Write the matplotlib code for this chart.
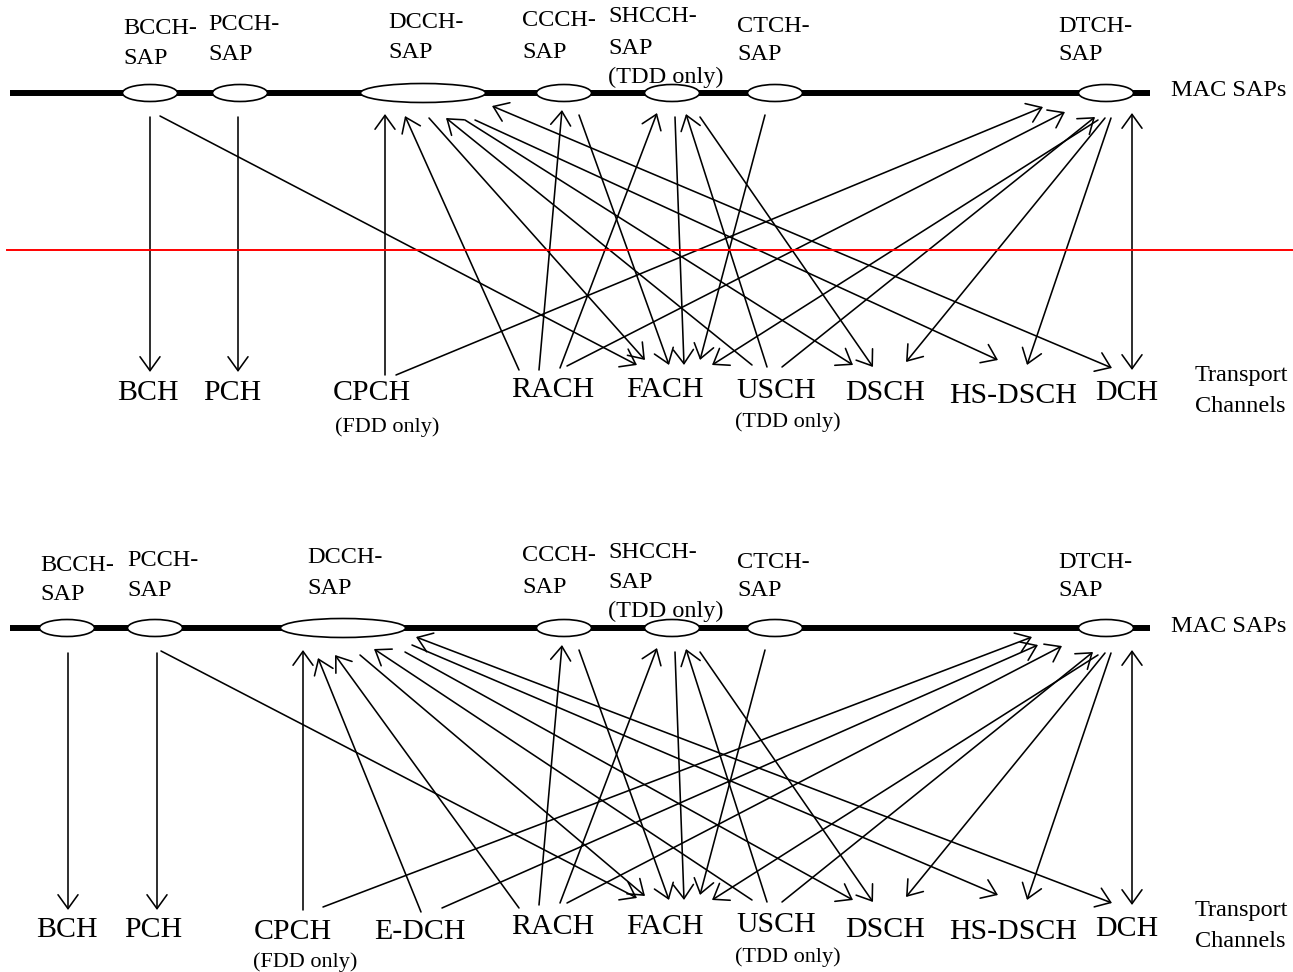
import matplotlib
matplotlib.use("Agg")
import matplotlib.pyplot as plt
from matplotlib.patches import Ellipse

W, H = 1293, 972
SERIF = "Liberation Serif"

# ---------------- upper diagram (no E-DCH) ----------------
top_mac_y = 93
top_saps = ["BCCH", "PCCH", "DCCH", "CCCH", "SHCCH", "CTCH", "DTCH"]
top_sap_x = [150, 240, 423, 564, 672, 775, 1106]
top_sap_w = [55, 55, 125, 55, 55, 55, 55]
top_label_x = [123, 208, 388, 522, 608, 737, 1058]
top_label_y = [[29, 58], [25, 55], [23, 53], [21, 52], [17, 48], [27, 55], [27, 55]]

top_channels = ["BCH", "PCH", "CPCH", "RACH", "FACH", "USCH", "DSCH", "HS-DSCH", "DCH"]
top_ch_x = [148, 232, 372, 553, 665, 776, 885, 1013, 1127]
top_ch_y = [393, 393, 393, 390, 390, 391, 393, 396, 393]

# (x at SAP, y at SAP, x at channel, y at channel, arrow)
# arrow: "down" = head at channel, "up" = head at SAP, "both"
top_edges = [
    (150, 117, 150, 372, "down"),    # BCCH - BCH
    (160, 116, 637, 365, "down"),    # BCCH - FACH
    (238, 117, 238, 372, "down"),    # PCCH - PCH
    (385, 114, 385, 375, "up"),      # DCCH - CPCH
    (1043, 107, 396, 375, "up"),     # DTCH - CPCH
    (405, 116, 519, 370, "up"),      # DCCH - RACH
    (562, 110, 539, 370, "up"),      # CCCH - RACH
    (657, 113, 560, 368, "up"),      # SHCCH - RACH
    (1065, 112, 567, 366, "up"),     # DTCH - RACH
    (429, 118, 645, 360, "down"),    # DCCH - FACH
    (579, 115, 669, 365, "down"),    # CCCH - FACH
    (675, 117, 684, 365, "down"),    # SHCCH - FACH
    (765, 115, 700, 360, "down"),    # CTCH - FACH
    (1098, 120, 712, 365, "down"),   # DTCH - FACH
    (446, 118, 752, 365, "up"),      # DCCH - USCH
    (686, 114, 767, 367, "up"),      # SHCCH - USCH
    (1095, 117, 782, 367, "up"),     # DTCH - USCH
    (465, 120, 853, 365, "down"),    # DCCH - DSCH
    (700, 117, 873, 367, "down"),    # SHCCH - DSCH
    (1105, 118, 906, 362, "down"),   # DTCH - DSCH
    (475, 120, 998, 360, "down"),    # DCCH - HS-DSCH
    (1111, 118, 1027, 365, "down"),  # DTCH - HS-DSCH
    (492, 106, 1112, 368, "both"),   # DCCH - DCH
    (1132, 113, 1132, 370, "both"),  # DTCH - DCH
]

# ---------------- lower diagram (with E-DCH) ----------------
bot_mac_y = 628
bot_saps = top_saps
bot_sap_x = [67, 155, 343, 564, 672, 775, 1106]
bot_sap_w = [55, 55, 125, 55, 55, 55, 55]
bot_label_x = [40, 127, 307, 522, 608, 737, 1058]
bot_label_y = [[565, 594], [560, 590], [557, 588], [555, 587], [552, 582], [562, 590], [562, 590]]

bot_channels = ["BCH", "PCH", "CPCH", "E-DCH", "RACH", "FACH", "USCH", "DSCH", "HS-DSCH", "DCH"]
bot_ch_x = [67, 153, 293, 420, 553, 665, 776, 885, 1013, 1127]
bot_ch_y = [930, 930, 932, 932, 927, 927, 925, 930, 932, 929]

bot_edges = [
    (68, 653, 68, 910, "down"),      # BCCH - BCH
    (157, 653, 157, 910, "down"),    # PCCH - PCH
    (161, 651, 637, 898, "down"),    # PCCH - FACH
    (303, 650, 303, 910, "up"),      # DCCH - CPCH
    (1032, 637, 323, 907, "up"),     # DTCH - CPCH
    (318, 658, 421, 912, "up"),      # DCCH - E-DCH
    (1038, 645, 442, 908, "up"),     # DTCH - E-DCH
    (335, 655, 519, 908, "up"),      # DCCH - RACH
    (562, 645, 539, 905, "up"),      # CCCH - RACH
    (657, 648, 560, 903, "up"),      # SHCCH - RACH
    (1062, 646, 567, 903, "up"),     # DTCH - RACH
    (360, 655, 645, 896, "down"),    # DCCH - FACH
    (579, 650, 669, 900, "down"),    # CCCH - FACH
    (675, 652, 684, 900, "down"),    # SHCCH - FACH
    (765, 650, 700, 895, "down"),    # CTCH - FACH
    (1098, 655, 712, 900, "down"),   # DTCH - FACH
    (374, 649, 752, 900, "up"),      # DCCH - USCH
    (686, 649, 767, 902, "up"),      # SHCCH - USCH
    (1093, 652, 782, 902, "up"),     # DTCH - USCH
    (405, 652, 853, 900, "down"),    # DCCH - DSCH
    (700, 652, 873, 902, "down"),    # SHCCH - DSCH
    (1105, 653, 906, 897, "down"),   # DTCH - DSCH
    (412, 645, 998, 895, "down"),    # DCCH - HS-DSCH
    (1111, 653, 1027, 900, "down"),  # DTCH - HS-DSCH
    (416, 637, 1112, 903, "both"),   # DCCH - DCH
    (1132, 650, 1132, 905, "both"),  # DTCH - DCH
]

notes = ["(FDD only)", "(TDD only)"]


def draw_block(ax, mac_y, saps, sap_x, sap_w, label_x, label_y,
               channels, ch_x, ch_y, edges, fdd_pos, tdd_pos, side_y):
    # thick MAC SAP line with the SAP ellipses on it
    ax.plot([10, 1150], [mac_y, mac_y], color="black", lw=4.3,
            solid_capstyle="butt", zorder=1)
    for name, x, w, lx, ly in zip(saps, sap_x, sap_w, label_x, label_y):
        h = 19 if w > 60 else 17
        ax.add_patch(Ellipse((x, mac_y), w, h, facecolor="white",
                             edgecolor="black", lw=1.2, zorder=2))
        ax.text(lx, ly[0], name + "-", fontsize=17.5, family=SERIF,
                va="center", ha="left")
        ax.text(lx, ly[1], "SAP", fontsize=17.5, family=SERIF,
                va="center", ha="left")
        if name == "SHCCH":
            ax.text(lx, ly[1] + 29, "(TDD only)", fontsize=17.5, family=SERIF,
                    va="center", ha="left")
    ax.text(1171, mac_y - 2, "MAC SAPs", fontsize=17.5, family=SERIF,
            va="center", ha="left")

    for name, x, y in zip(channels, ch_x, ch_y):
        ax.text(x, y, name, fontsize=21.5, family=SERIF, va="center", ha="center")
    ax.text(fdd_pos[0], fdd_pos[1], notes[0], fontsize=16, family=SERIF,
            va="center", ha="left")
    ax.text(tdd_pos[0], tdd_pos[1], notes[1], fontsize=16, family=SERIF,
            va="center", ha="left")
    ax.text(1195, side_y, "Transport", fontsize=17.5, family=SERIF,
            va="center", ha="left")
    ax.text(1195, side_y + 31, "Channels", fontsize=17.5, family=SERIF,
            va="center", ha="left")

    for xs, ys, xc, yc, kind in edges:
        if kind == "down":
            start, end, style = (xs, ys), (xc, yc), "->"
        elif kind == "up":
            start, end, style = (xc, yc), (xs, ys), "->"
        else:
            start, end, style = (xs, ys), (xc, yc), "<->"
        ax.annotate("", xy=end, xytext=start,
                    arrowprops=dict(arrowstyle=style + ",head_length=0.5,head_width=0.36",
                                    color="black", lw=1.15, shrinkA=0, shrinkB=0,
                                    mutation_scale=20),
                    zorder=3)


fig = plt.figure(figsize=(W / 100, H / 100), dpi=100)
ax = fig.add_axes([0, 0, 1, 1])
ax.set_xlim(0, W)
ax.set_ylim(H, 0)
ax.axis("off")

draw_block(ax, top_mac_y, top_saps, top_sap_x, top_sap_w, top_label_x, top_label_y,
           top_channels, top_ch_x, top_ch_y, top_edges, (335, 427), (735, 422), 375)
draw_block(ax, bot_mac_y, bot_saps, bot_sap_x, bot_sap_w, bot_label_x, bot_label_y,
           bot_channels, bot_ch_x, bot_ch_y, bot_edges, (253, 962), (735, 957), 910)

# red separator through the upper diagram
ax.plot([7, 1293], [250, 250], color="red", lw=1.4, zorder=4)

fig.savefig("out.png", dpi=100)
